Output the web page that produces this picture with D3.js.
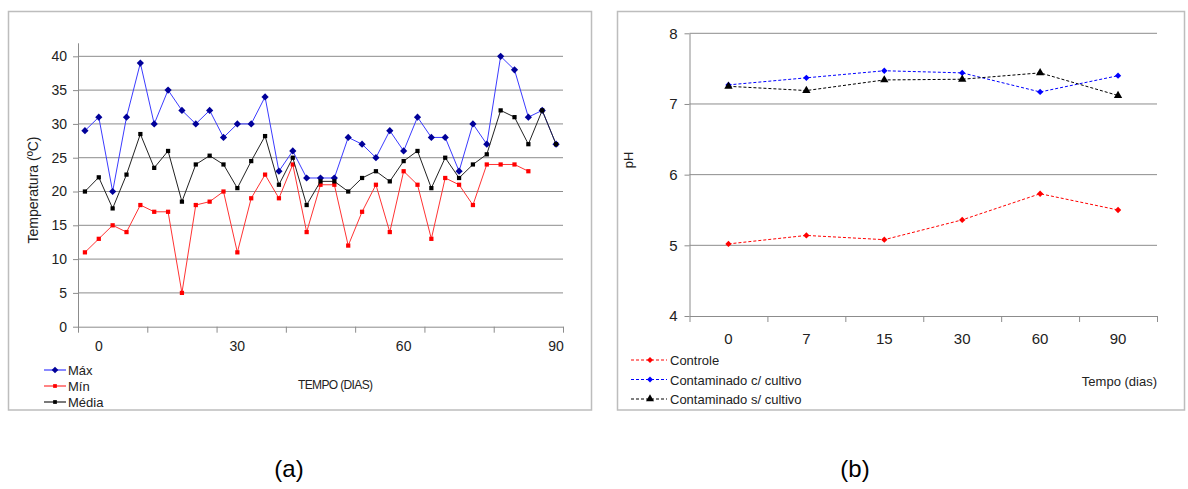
<!DOCTYPE html>
<html>
<head>
<meta charset="utf-8">
<script src="https://cdn.jsdelivr.net/npm/d3@7"></script>
<style>
  body { margin:0; background:#fff; }
  svg { font-family: "Liberation Sans", Arial, sans-serif; }
  .axis path, .axis line { stroke:#8c8c8c; }
  .axis text { fill:#222; }
</style>
</head>
<body>
<svg id="chart" width="1188" height="489"></svg>
<script>
// ---- data (a) temperatura diaria ----
var tempLabels = ["","0","","","","","","","","","","30","","","","","","","","","","","","60","","","","","","","","","","","90"];
var maxTemp = [29,31,20,31,39,30,35,32,30,32,28,30,30,34,23,26,22,22,22,28,27,25,29,26,31,28,28,23,30,27,40,38,31,32,27];
var minTemp = [11,13,15,14,18,17,17,5,18,18.5,20,11,19,22.5,19,24,14,21,21,12,17,21,14,23,21,13,22,21,18,24,24,24,23,null,null];
var mediaTemp = [20,22.1,17.5,22.5,28.5,23.5,26,18.5,24,25.3,24,20.5,24.5,28.2,21,25,18,21.5,21.5,20,22,23,21.5,24.5,26,20.5,25,22,24,25.5,32,31,27,32,27];

// ---- data (b) pH ----
var phDays = ["0","7","15","30","60","90"];
var controle = [5.02,5.14,5.08,5.36,5.73,5.50];
var comCultivo = [7.27,7.37,7.47,7.44,7.17,7.40];
var semCultivo = [7.25,7.19,7.34,7.35,7.44,7.12];

var svg = d3.select("#chart");

// diamond = square turned 45deg (Excel style)
function marker(shape, size){
  if (shape == "diamond") return d3.symbol().type(d3.symbolSquare).size(size)();
  if (shape == "triangle") return d3.symbol().type(d3.symbolTriangle).size(size)();
  return d3.symbol().type(d3.symbolSquare).size(size)();
}
function rot(shape){ return shape == "diamond" ? " rotate(45)" : ""; }

// panel frames
svg.append("rect").attr("x",8.5).attr("y",11.5).attr("width",583).attr("height",398.5)
   .attr("fill","none").attr("stroke","#bdbdbd").attr("stroke-width",1.5);
svg.append("rect").attr("x",617.5).attr("y",11.5).attr("width",567).attr("height",398.5)
   .attr("fill","none").attr("stroke","#bdbdbd").attr("stroke-width",1.5);

//================ chart (a) =================
var a = {left:78, right:563, top:42.8, bottom:326.7};

var xa = d3.scaleBand().domain(d3.range(tempLabels.length)).range([a.left,a.right]);
var xaEdge = d3.scaleLinear().domain([0,tempLabels.length]).range([a.left,a.right]);
var ya = d3.scaleLinear().domain([0,42]).range([a.bottom,a.top]);

// gridlines
svg.append("g").selectAll("line")
   .data(d3.range(5,41,5))
   .enter().append("line")
   .attr("x1",a.left).attr("x2",a.right)
   .attr("y1",d => ya(d)).attr("y2",d => ya(d))
   .attr("stroke","#8c8c8c").attr("stroke-width",1);

var yAxisA = d3.axisLeft(ya).tickValues(d3.range(0,41,5)).tickSize(5).tickPadding(6).tickSizeOuter(0);
svg.append("g")
   .attr("class","axis")
   .attr("transform","translate("+a.left+",0)")
   .style("font-size","14px")
   .call(yAxisA);

var xAxisA = d3.axisBottom(xaEdge).tickValues(d3.range(0,36,5)).tickSize(6).tickFormat("").tickSizeOuter(0);
svg.append("g")
   .attr("class","axis")
   .attr("transform","translate(0,"+a.bottom+")")
   .call(xAxisA);

// category labels
svg.append("g").selectAll("text")
   .data(tempLabels.map((d,i) => [d,i]).filter(d => d[0] != ""))
   .enter().append("text")
   .attr("x",d => xa(d[1]) + xa.bandwidth()/2)
   .attr("y",351)
   .style("text-anchor","middle")
   .style("font-size","14px")
   .attr("fill","#222")
   .text(d => d[0]);

svg.append("text")
   .attr("transform","rotate(-90)")
   .attr("x",-190).attr("y",38)
   .style("text-anchor","middle")
   .style("font-size","14px")
   .attr("fill","#222")
   .text("Temperatura (ºC)");

svg.append("text")
   .attr("x",298).attr("y",389)
   .attr("textLength",75)
   .style("font-size","12px")
   .attr("fill","#222")
   .text("TEMPO (DIAS)");

var seriesA = [
  {name:"Máx", values:maxTemp, line:"#3b3bff", mark:"#000099", shape:"diamond", size:26},
  {name:"Mín", values:minTemp, line:"#ff3333", mark:"#ff0000", shape:"square", size:18},
  {name:"Média", values:mediaTemp, line:"#222", mark:"#000", shape:"square", size:18}
];

var lineA = d3.line()
   .defined(d => d != null)
   .x((d,i) => xa(i) + xa.bandwidth()/2)
   .y(d => ya(d));

seriesA.forEach(function(s){
  svg.append("path")
     .datum(s.values)
     .attr("fill","none")
     .attr("stroke",s.line)
     .attr("stroke-width",1)
     .attr("d",lineA);
  svg.append("g").selectAll("path")
     .data(s.values.map((v,i) => [v,i]).filter(d => d[0] != null))
     .enter().append("path")
     .attr("transform",d => "translate("+(xa(d[1]) + xa.bandwidth()/2)+","+ya(d[0])+")"+rot(s.shape))
     .attr("d",marker(s.shape,s.size))
     .attr("fill",s.mark);
});

// legend (a)
seriesA.forEach(function(s,i){
  var ly = 370 + i*16;
  svg.append("line").attr("x1",44).attr("x2",66).attr("y1",ly).attr("y2",ly)
     .attr("stroke",s.line).attr("stroke-width",2).attr("opacity",0.6);
  svg.append("path").attr("transform","translate(55,"+ly+")"+rot(s.shape))
     .attr("d",marker(s.shape,s.size-4)).attr("fill",s.mark);
  svg.append("text").attr("x",68).attr("y",ly+5)
     .style("font-size","13px").attr("fill","#222").text(s.name);
});

//================ chart (b) =================
var b = {left:689.5, right:1157, top:33.3, bottom:316};

var xb = d3.scaleBand().domain(phDays).range([b.left,b.right]);
var xbEdge = d3.scaleLinear().domain([0,phDays.length]).range([b.left,b.right]);
var yb = d3.scaleLinear().domain([4,8]).range([b.bottom,b.top]);

svg.append("g").selectAll("line")
   .data([5,6,7,8])
   .enter().append("line")
   .attr("x1",b.left).attr("x2",b.right)
   .attr("y1",d => yb(d)).attr("y2",d => yb(d))
   .attr("stroke","#8c8c8c").attr("stroke-width",1);

var yAxisB = d3.axisLeft(yb).tickValues([4,5,6,7,8]).tickSize(5).tickPadding(7).tickSizeOuter(0).tickFormat(d3.format("d"));
svg.append("g")
   .attr("class","axis")
   .attr("transform","translate("+b.left+",0)")
   .style("font-size","15px")
   .call(yAxisB);

var xAxisB = d3.axisBottom(xbEdge).tickValues(d3.range(0,7)).tickSize(6).tickFormat("").tickSizeOuter(0);
svg.append("g")
   .attr("class","axis")
   .attr("transform","translate(0,"+b.bottom+")")
   .call(xAxisB);

svg.append("g").selectAll("text")
   .data(phDays)
   .enter().append("text")
   .attr("x",d => xb(d) + xb.bandwidth()/2)
   .attr("y",344)
   .style("text-anchor","middle")
   .style("font-size","15px")
   .attr("fill","#222")
   .text(d => d);

svg.append("text")
   .attr("transform","rotate(-90)")
   .attr("x",-160).attr("y",633)
   .style("text-anchor","middle")
   .style("font-size","13px")
   .attr("fill","#222")
   .text("pH");

svg.append("text")
   .attr("x",1157).attr("y",386)
   .style("text-anchor","end")
   .style("font-size","13px")
   .attr("fill","#222")
   .text("Tempo (dias)");

var seriesB = [
  {name:"Controle", values:controle, color:"#ff0000", shape:"diamond", size:20},
  {name:"Contaminado c/ cultivo", values:comCultivo, color:"#0000ff", shape:"diamond", size:20},
  {name:"Contaminado s/ cultivo", values:semCultivo, color:"#000", shape:"triangle", size:30}
];

var lineB = d3.line()
   .x((d,i) => xb(phDays[i]) + xb.bandwidth()/2)
   .y(d => yb(d));

seriesB.forEach(function(s,k){
  svg.append("path")
     .datum(s.values)
     .attr("fill","none")
     .attr("stroke",s.color)
     .attr("stroke-width",1)
     .attr("stroke-dasharray","3,2")
     .attr("d",lineB);
  svg.append("g").selectAll("path")
     .data(s.values)
     .enter().append("path")
     .attr("transform",(d,i) => "translate("+(xb(phDays[i]) + xb.bandwidth()/2)+","+yb(d)+")"+rot(s.shape))
     .attr("d",marker(s.shape,s.size))
     .attr("fill",s.color);

  var ly = 360 + k*19.5;
  svg.append("line").attr("x1",631).attr("x2",667).attr("y1",ly).attr("y2",ly)
     .attr("stroke",s.color).attr("stroke-width",1).attr("stroke-dasharray","3,2");
  svg.append("path").attr("transform","translate(650,"+ly+")"+rot(s.shape))
     .attr("d",marker(s.shape,s.size-2)).attr("fill",s.color);
  svg.append("text").attr("x",670).attr("y",ly+5)
     .style("font-size","13px").attr("fill","#222").text(s.name);
});

// panel captions
svg.append("text").attr("x",289).attr("y",477)
   .style("text-anchor","middle").style("font-size","24px").attr("fill","#000").text("(a)");
svg.append("text").attr("x",855).attr("y",477)
   .style("text-anchor","middle").style("font-size","24px").attr("fill","#000").text("(b)");
</script>
</body>
</html>
